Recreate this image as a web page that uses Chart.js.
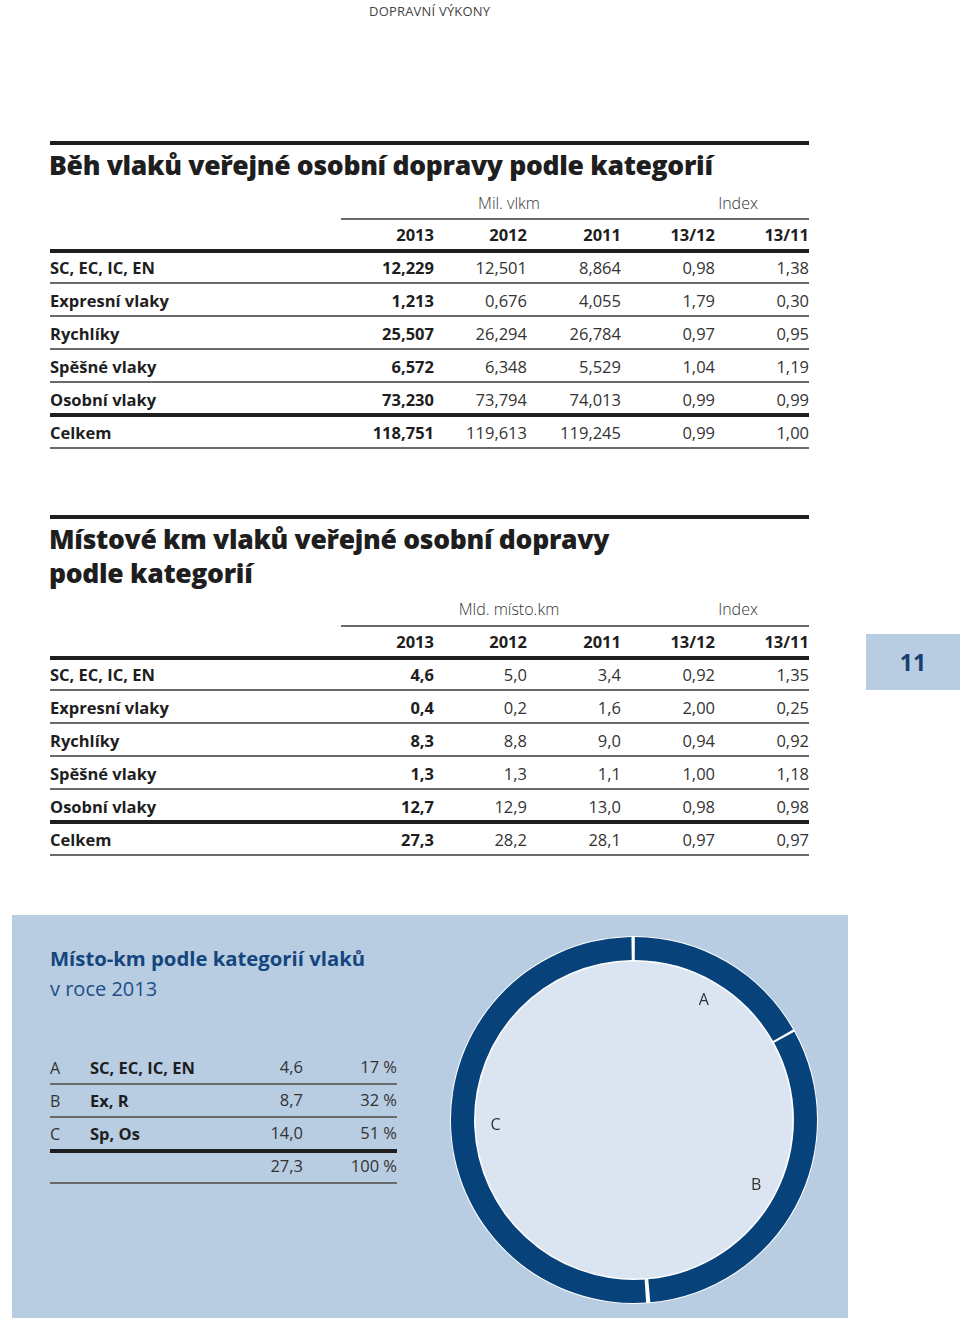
<!DOCTYPE html>
<html lang="cs">
<head>
<meta charset="utf-8">
<script src="https://cdn.jsdelivr.net/npm/chart.js@4/dist/chart.umd.min.js"></script>
<style>
  html, body { margin: 0; padding: 0; background: #fff; }
  body { width: 960px; height: 1328px; position: relative; overflow: hidden;
         font-family: "Open Sans", "Noto Sans", sans-serif; color: #1e1e1e; }
  .abs { position: absolute; white-space: nowrap; }
  .rule { position: absolute; }
  .thin { height: 1.5px; background: #6a6a6a; }
  .thick { height: 3.5px; background: #1e1e1e; }
  .title { font-weight: 800; font-size: 26.5px; line-height: 34px; letter-spacing: -0.3px; }
  .unit { font-size: 16px; line-height: 20px; font-weight: 300; color: #333; text-align: center; width: 200px; }
  .cell { font-size: 16.5px; line-height: 20px; text-align: right; width: 160px; }
  .lab { font-size: 16.5px; line-height: 20px; font-weight: 700; }
  .b { font-weight: 700; }
  .r { font-weight: 400; color: #333; }
  #panel { position: absolute; left: 12px; top: 915px; width: 836px; height: 403px; background: #b8cce2; }
  #tab { position: absolute; left: 866px; top: 634px; width: 94px; height: 56px; background: #b8cce2;
         color: #163f6e; font-weight: 700; font-size: 23px; line-height: 56px; text-align: center; }
  #donut { position: absolute; left: 444px; top: 930px; width: 380px; height: 380px; }
</style>
</head>
<body>
<div class="abs" style="left:369px; top:2px; font-size:13px; color:#444; letter-spacing:0.2px;">DOPRAVNÍ VÝKONY</div>
<div id="tab">11</div>
<div id="panel"></div>
<div id="donut"><canvas id="chart"></canvas></div>
<script>
// row labels and column headers
const rowLabels = ['SC, EC, IC, EN', 'Expresní vlaky', 'Rychlíky', 'Spěšné vlaky', 'Osobní vlaky', 'Celkem'];
const colHeads = ['2013', '2012', '2011', '13/12', '13/11'];

// Běh vlaků (mil. vlkm)
const vlkm2013 = [12.229, 1.213, 25.507, 6.572, 73.230, 118.751];
const vlkm2012 = [12.501, 0.676, 26.294, 6.348, 73.794, 119.613];
const vlkm2011 = [8.864, 4.055, 26.784, 5.529, 74.013, 119.245];
const vlkmIdx1312 = [0.98, 1.79, 0.97, 1.04, 0.99, 0.99];
const vlkmIdx1311 = [1.38, 0.30, 0.95, 1.19, 0.99, 1.00];

// Místové km (mld. místo.km)
const mkm2013 = [4.6, 0.4, 8.3, 1.3, 12.7, 27.3];
const mkm2012 = [5.0, 0.2, 8.8, 1.3, 12.9, 28.2];
const mkm2011 = [3.4, 1.6, 9.0, 1.1, 13.0, 28.1];
const mkmIdx1312 = [0.92, 2.00, 0.94, 1.00, 0.98, 0.97];
const mkmIdx1311 = [1.35, 0.25, 0.92, 1.18, 0.98, 0.97];

// doughnut: místo-km podle kategorií v roce 2013
const pieLetters = ['A', 'B', 'C'];
const pieNames = ['SC, EC, IC, EN', 'Ex, R', 'Sp, Os'];
const pieValues = [4.6, 8.7, 14.0];
const pieShares = [17, 32, 51];
const pieTotal = 27.3;

const fmt = (v, d) => v.toFixed(d).replace('.', ',');

function add(html, cls, style) {
  const el = document.createElement('div');
  el.className = cls;
  el.style.cssText = style;
  el.innerHTML = html;
  document.body.appendChild(el);
  return el;
}

function rule(x1, x2, y, kind) {
  add('', 'rule ' + kind, `left:${x1}px; top:${y}px; width:${x2 - x1}px;`);
}

const colRight = [434, 527, 621, 715, 809];

function buildTable(top, titleLines, unit, cols, decimals, unitOff, headOff) {
  rule(50, 809, top, 'thick');
  titleLines.forEach((t, i) => {
    add(t, 'abs title', `left:49px; top:${top + 7 + i * 34}px;`);
  });
  const y = top + 6 + titleLines.length * 34;
  add(unit, 'abs unit', `left:${509 - 100}px; top:${y + unitOff - 10}px;`);
  add('Index', 'abs unit', `left:${738 - 100}px; top:${y + unitOff - 10}px;`);
  rule(341, 809, y + headOff - 7, 'thin');
  const headY = y + headOff;
  colHeads.forEach((h, i) => {
    add(h, 'abs cell b', `left:${colRight[i] - 160}px; top:${headY}px;`);
  });
  rule(50, 809, headY + 24, 'thick');
  rowLabels.forEach((lab, r) => {
    const ry = headY + 33 * (r + 1);
    add(lab, 'abs lab', `left:50px; top:${ry}px;`);
    cols.forEach((arr, c) => {
      add(fmt(arr[r], decimals[c]), 'abs cell ' + (c === 0 ? 'b' : 'r'),
          `left:${colRight[c] - 160}px; top:${ry}px;`);
    });
    const last = r === rowLabels.length - 2;
    rule(50, 809, last ? ry + 23 : ry + 24, last ? 'thick' : 'thin');
  });
}

buildTable(141, ['Běh vlaků veřejné osobní dopravy podle kategorií'], 'Mil. vlkm',
  [vlkm2013, vlkm2012, vlkm2011, vlkmIdx1312, vlkmIdx1311], [3, 3, 3, 2, 2], 22, 44);
buildTable(515, ['Místové km vlaků veřejné osobní dopravy', 'podle kategorií'], 'Mld. místo.km',
  [mkm2013, mkm2012, mkm2011, mkmIdx1312, mkmIdx1311], [1, 1, 1, 2, 2], 20, 43);

// panel texts
add('Místo-km podle kategorií vlaků', 'abs',
  'left:50px; top:944px; font-size:20.3px; font-weight:700; color:#14467d;');
add('v roce 2013', 'abs', 'left:50px; top:975px; font-size:20px; font-weight:400; color:#1d4f88;');

pieLetters.forEach((l, i) => {
  const y = 1057 + i * 33;
  add(l, 'abs', `left:50px; top:${y}px; font-size:16px; color:#333;`);
  add(pieNames[i], 'abs b', `left:90px; top:${y - 1}px; font-size:16.5px;`);
  add(fmt(pieValues[i], 1), 'abs cell r', `left:${303 - 160}px; top:${y}px;`);
  add(pieShares[i] + '\u00a0%', 'abs cell r', `left:${397 - 160}px; top:${y}px;`);
  rule(50, 397, y + 26, i === 2 ? 'thick' : 'thin');
});
add(fmt(pieTotal, 1), 'abs cell r', `left:${303 - 160}px; top:1156px;`);
add('100\u00a0%', 'abs cell r', `left:${397 - 160}px; top:1156px;`);
rule(50, 397, 1182, 'thin');

// white outline and light centre behind the ring
const ringBackdrop = {
  id: 'ringBackdrop',
  beforeDatasetsDraw(chart) {
    const arc = chart.getDatasetMeta(0).data[0];
    if (!arc) return;
    const { x, y, innerRadius, outerRadius } = arc.getProps(['x', 'y', 'innerRadius', 'outerRadius'], true);
    const ctx = chart.ctx;
    ctx.save();
    ctx.fillStyle = '#ffffff';
    ctx.beginPath();
    ctx.arc(x, y, outerRadius + 2.5, 0, Math.PI * 2);
    ctx.fill();
    ctx.fillStyle = '#dbe5f1';
    ctx.beginPath();
    ctx.arc(x, y, innerRadius, 0, Math.PI * 2);
    ctx.fill();
    ctx.restore();
  }
};

// letters A/B/C inside the ring
const ringLetters = {
  id: 'ringLetters',
  afterDatasetsDraw(chart) {
    const ctx = chart.ctx;
    ctx.save();
    ctx.font = '16px "Open Sans", sans-serif';
    ctx.fillStyle = '#333';
    ctx.textAlign = 'center';
    ctx.textBaseline = 'middle';
    chart.getDatasetMeta(0).data.forEach((arc, i) => {
      const p = arc.getProps(['x', 'y', 'startAngle', 'endAngle', 'innerRadius'], true);
      const a = (p.startAngle + p.endAngle) / 2;
      const r = p.innerRadius - 20;
      ctx.fillText(pieLetters[i], p.x + Math.cos(a) * r, p.y + Math.sin(a) * r);
    });
    ctx.restore();
  }
};

new Chart(document.getElementById('chart'), {
  type: 'doughnut',
  data: {
    labels: pieLetters,
    datasets: [{
      data: pieValues,
      backgroundColor: '#07427b',
      borderWidth: 0,
      spacing: 3
    }]
  },
  options: {
    responsive: true,
    maintainAspectRatio: false,
    animation: false,
    cutout: '87.3%',
    layout: { padding: 7 },
    plugins: {
      legend: { display: false },
      tooltip: { enabled: false }
    }
  },
  plugins: [ringBackdrop, ringLetters]
});
</script>
</body>
</html>
